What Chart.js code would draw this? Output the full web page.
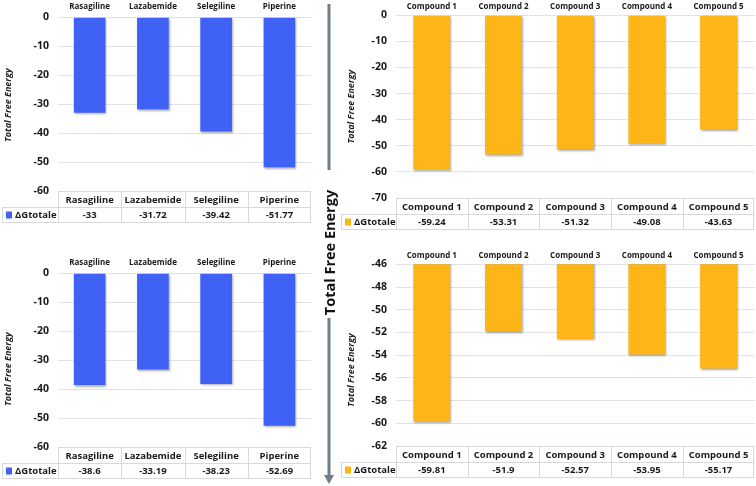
<!DOCTYPE html>
<html><head><meta charset="utf-8">
<script src="https://cdn.jsdelivr.net/npm/chart.js@4.4.1/dist/chart.umd.min.js"></script>
<style>
html,body{margin:0;padding:0;background:#fff;width:756px;height:486px;overflow:hidden;}
.box{position:absolute;}
</style></head><body>
<div class="box" style="left:0px;top:0px;width:312px;height:225px"><canvas id="c1"></canvas></div>
<div class="box" style="left:338px;top:0px;width:418px;height:232px"><canvas id="c2"></canvas></div>
<div class="box" style="left:0px;top:256px;width:312px;height:225px"><canvas id="c3"></canvas></div>
<div class="box" style="left:338px;top:249px;width:418px;height:231px"><canvas id="c4"></canvas></div>
<svg class="box" style="left:310px;top:0px" width="40" height="486">
  <rect x="17.5" y="4" width="3" height="166" fill="#6f7e89"/>
  <rect x="17.5" y="318" width="3" height="158" fill="#6f7e89"/>
  <polygon points="14,475 24,475 19,484" fill="#6f7e89"/>
  <text id="bigTitle" x="0" y="0" transform="translate(25,252.5) rotate(-90)" text-anchor="middle"
        font-family="Open Sans" font-weight="700" font-size="14.5" fill="#111"></text>
</svg>
<script>
// ---- data ----
const drugs = ['Rasagiline', 'Lazabemide', 'Selegiline', 'Piperine'];
const compounds = ['Compound 1', 'Compound 2', 'Compound 3', 'Compound 4', 'Compound 5'];
const drugsTop = [-33, -31.72, -39.42, -51.77];
const compoundsTop = [-59.24, -53.31, -51.32, -49.08, -43.63];
const drugsBottom = [-38.6, -33.19, -38.23, -52.69];
const compoundsBottom = [-59.81, -51.9, -52.57, -53.95, -55.17];
const seriesName = 'ΔGtotale';
const axisTitle = 'Total Free Energy';
const centerTitle = 'Total Free Energy';

document.getElementById('bigTitle').textContent = centerTitle;

const FONT = "'Open Sans'";
const BLUE = '#3f61f4';
const ORANGE = '#fdb517';

const shadowPlugin = {
  id: 'barShadow',
  beforeDatasetsDraw(chart) {
    const ctx = chart.ctx;
    ctx.save();
    ctx.shadowColor = 'rgba(60,70,90,0.45)';
    ctx.shadowOffsetX = 1;
    ctx.shadowOffsetY = 1.5;
    ctx.shadowBlur = 2;
  },
  afterDatasetsDraw(chart) { chart.ctx.restore(); }
};

const yTitlePlugin = {
  id: 'yTitle',
  afterDraw(chart, args, opts) {
    const {ctx, chartArea: a} = chart;
    ctx.save();
    ctx.translate(opts.x, (a.top + a.bottom) / 2 + (opts.dy || 0));
    ctx.rotate(-Math.PI / 2);
    ctx.font = 'italic 700 9px ' + FONT;
    ctx.fillStyle = '#222';
    ctx.textAlign = 'center';
    ctx.textBaseline = 'middle';
    ctx.fillText(opts.text, 0, 0);
    ctx.restore();
  }
};

const tablePlugin = {
  id: 'dataTable',
  afterDraw(chart, args, opts) {
    const {ctx, chartArea: a, scales: {x}} = chart;
    const labels = chart.data.labels;
    const ds = chart.data.datasets[0];
    const n = labels.length;
    const w = (a.right - a.left) / n;
    const y0 = Math.round(a.bottom), y1 = y0 + opts.h1, y2 = y1 + opts.h2;
    const L = opts.legendLeft;
    ctx.save();
    ctx.strokeStyle = '#d5dadd';
    ctx.lineWidth = 1;
    ctx.beginPath();
    ctx.moveTo(a.left, y0 + .5); ctx.lineTo(a.right, y0 + .5);
    ctx.moveTo(L, y1 + .5); ctx.lineTo(a.right, y1 + .5);
    ctx.moveTo(L, y2 + .5); ctx.lineTo(a.right, y2 + .5);
    ctx.moveTo(L + .5, y1); ctx.lineTo(L + .5, y2);
    for (let i = 0; i <= n; i++) {
      const xb = Math.round(a.left + i * w) + (i === n ? -.5 : .5);
      ctx.moveTo(xb, y0); ctx.lineTo(xb, y2);
    }
    ctx.stroke();
    ctx.fillStyle = '#1a1a1a';
    ctx.font = '700 9.5px ' + FONT;
    ctx.textAlign = 'center';
    ctx.textBaseline = 'middle';
    for (let i = 0; i < n; i++) {
      const cx = x.getPixelForValue(i);
      ctx.fillText(labels[i], cx, (y0 + y1) / 2 + 1);
      ctx.fillText(String(ds.data[i]), cx, (y1 + y2) / 2 + 1);
    }
    // legend cell
    ctx.fillStyle = ds.backgroundColor;
    ctx.fillRect(L + 4, (y1 + y2) / 2 - 3, 6, 7);
    ctx.fillStyle = '#1a1a1a';
    ctx.textAlign = 'left';
    ctx.fillText(ds.label, L + 13, (y1 + y2) / 2 + 1);
    ctx.restore();
  }
};

function makeChart(id, labels, values, color, yMin, yMax, step, cfg) {
  return new Chart(document.getElementById(id), {
    type: 'bar',
    data: {
      labels: labels,
      datasets: [{
        label: seriesName,
        data: values,
        backgroundColor: color,
        borderWidth: 0,
        categoryPercentage: 1,
        barPercentage: cfg.barPct
      }]
    },
    plugins: [shadowPlugin, yTitlePlugin, tablePlugin],
    options: {
      responsive: true,
      maintainAspectRatio: false,
      animation: false,
      events: [],
      layout: {padding: {left: 0, right: cfg.padRight, top: 0, bottom: 34}},
      plugins: {
        legend: {display: false},
        tooltip: {enabled: false},
        yTitle: {text: axisTitle, x: cfg.titleX, dy: cfg.titleDy},
        dataTable: {h1: 16, h2: 15, legendLeft: cfg.legendLeft}
      },
      scales: {
        x: {
          position: 'top',
          grid: {display: false, drawTicks: false},
          border: {display: false},
          ticks: {
            font: {family: FONT, weight: '700', size: 8},
            color: '#1a1a1a',
            padding: cfg.xPad,
            maxRotation: 0, autoSkip: false
          },
          afterFit(s) { s.height = cfg.xAxisH; }
        },
        y: {
          min: yMin, max: yMax,
          grid: {color: '#dfe3e6', drawTicks: false, lineWidth: 1},
          border: {display: false},
          ticks: {
            stepSize: step,
            font: {family: FONT, weight: '700', size: 10.5},
            color: '#1a1a1a',
            padding: 9
          },
          afterFit(s) { s.width = 58; }
        }
      }
    }
  });
}

makeChart('c1', drugs, drugsTop, BLUE, -60, 0, 10,
  {barPct: 0.5, padRight: 1, xAxisH: 17.3, xPad: 6, titleX: 8, titleDy: 1, legendLeft: 2});
makeChart('c2', compounds, compoundsTop, ORANGE, -70, 0, 10,
  {barPct: 0.515, padRight: 1.6, xAxisH: 14.7, xPad: 4, titleX: 13.5, titleDy: 0, legendLeft: 3});
makeChart('c3', drugs, drugsBottom, BLUE, -60, 0, 10,
  {barPct: 0.5, padRight: 1, xAxisH: 17.3, xPad: 6, titleX: 8, titleDy: 9, legendLeft: 2});
makeChart('c4', compounds, compoundsBottom, ORANGE, -62, -46, 2,
  {barPct: 0.515, padRight: 1.6, xAxisH: 15, xPad: 4, titleX: 13.5, titleDy: 15, legendLeft: 3});
</script>
</body></html>
